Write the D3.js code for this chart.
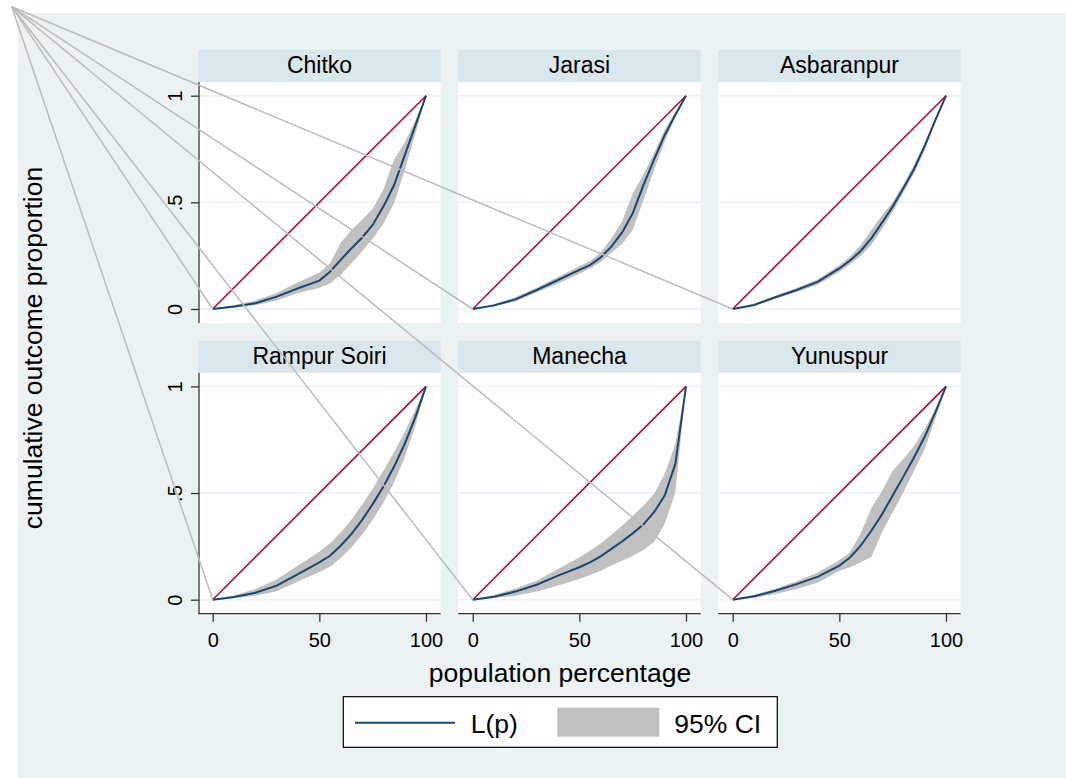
<!DOCTYPE html>
<html>
<head>
<meta charset="utf-8">
<script src="https://cdn.jsdelivr.net/npm/d3@7"></script>
<style>
  body { margin: 0; background: #fff; }
  svg { display: block; font-family: "Liberation Sans", Arial, sans-serif; }
</style>
</head>
<body>
<div id="chart"></div>
<script>
// population percentage grid
const popPct = [0, 10, 20, 30, 40, 50, 55, 60, 65, 70, 75, 80, 85, 90, 95, 100];

const villages = ["Chitko", "Jarasi", "Asbaranpur", "Rampur Soiri", "Manecha", "Yunuspur"];

// L(p) and 95% CI
const chitkoL  = [0, 0.012, 0.027, 0.058, 0.097, 0.133, 0.175, 0.23, 0.284, 0.334, 0.394, 0.48, 0.58, 0.72, 0.86, 1];
const chitkoHi = [0, 0.018, 0.04, 0.075, 0.125, 0.17, 0.214, 0.31, 0.37, 0.417, 0.47, 0.56, 0.70, 0.78, 0.885, 1];
const chitkoLo = [0, 0.006, 0.018, 0.04, 0.075, 0.1, 0.12, 0.16, 0.214, 0.27, 0.33, 0.40, 0.495, 0.65, 0.82, 1];

const jarasiL  = [0, 0.017, 0.045, 0.089, 0.136, 0.183, 0.206, 0.242, 0.292, 0.358, 0.448, 0.58, 0.70, 0.815, 0.91, 1];
const jarasiHi = [0, 0.022, 0.055, 0.10, 0.15, 0.20, 0.225, 0.265, 0.33, 0.41, 0.54, 0.63, 0.73, 0.84, 0.925, 1];
const jarasiLo = [0, 0.012, 0.035, 0.078, 0.12, 0.165, 0.19, 0.22, 0.264, 0.305, 0.37, 0.51, 0.65, 0.785, 0.9, 1];

const asbaranpurL  = [0, 0.019, 0.055, 0.089, 0.128, 0.19, 0.227, 0.272, 0.331, 0.405, 0.48, 0.566, 0.655, 0.764, 0.886, 1];
const asbaranpurHi = [0, 0.024, 0.062, 0.098, 0.14, 0.205, 0.245, 0.30, 0.37, 0.44, 0.50, 0.585, 0.675, 0.78, 0.895, 1];
const asbaranpurLo = [0, 0.014, 0.048, 0.08, 0.115, 0.175, 0.21, 0.25, 0.30, 0.375, 0.455, 0.545, 0.635, 0.745, 0.875, 1];

const rampurL  = [0, 0.013, 0.033, 0.066, 0.12, 0.175, 0.206, 0.253, 0.308, 0.373, 0.448, 0.53, 0.623, 0.73, 0.855, 1];
const rampurHi = [0, 0.02, 0.05, 0.095, 0.16, 0.225, 0.265, 0.315, 0.375, 0.445, 0.52, 0.605, 0.69, 0.785, 0.89, 1];
const rampurLo = [0, 0.007, 0.018, 0.04, 0.085, 0.13, 0.155, 0.195, 0.245, 0.305, 0.375, 0.455, 0.55, 0.665, 0.815, 1];

const manechaL  = [0, 0.014, 0.038, 0.07, 0.113, 0.152, 0.175, 0.203, 0.238, 0.273, 0.311, 0.352, 0.41, 0.488, 0.636, 1];
const manechaHi = [0, 0.022, 0.053, 0.089, 0.144, 0.198, 0.23, 0.264, 0.305, 0.347, 0.394, 0.44, 0.495, 0.59, 0.73, 1];
const manechaLo = [0, 0.008, 0.019, 0.039, 0.066, 0.097, 0.116, 0.136, 0.16, 0.183, 0.206, 0.233, 0.27, 0.355, 0.503, 1];

const yunuspurL  = [0, 0.016, 0.042, 0.073, 0.108, 0.16, 0.198, 0.253, 0.323, 0.40, 0.488, 0.577, 0.667, 0.764, 0.878, 1];
const yunuspurHi = [0, 0.022, 0.053, 0.086, 0.128, 0.186, 0.223, 0.31, 0.43, 0.51, 0.605, 0.66, 0.72, 0.80, 0.894, 1];
const yunuspurLo = [0, 0.009, 0.027, 0.05, 0.081, 0.136, 0.152, 0.175, 0.2, 0.316, 0.41, 0.503, 0.605, 0.706, 0.847, 1];

const curveL  = [chitkoL, jarasiL, asbaranpurL, rampurL, manechaL, yunuspurL];
const curveHi = [chitkoHi, jarasiHi, asbaranpurHi, rampurHi, manechaHi, yunuspurHi];
const curveLo = [chitkoLo, jarasiLo, asbaranpurLo, rampurLo, manechaLo, yunuspurLo];

const xTicks = [0, 50, 100];
const yTicks = [0, 0.5, 1];
const yTickLabels = ["0", ".5", "1"];

const W = 1066, H = 778;
const colX = [198.3, 458.3, 718.3];
const rowTop = [50, 340.7];
const panelW = 242.4, headH = 32, plotH = 241;

const navy = "#1a476f", red = "#c10534", ciFill = "#c0c0c0";
const bg = "#eaf2f3", strip = "#d9e6eb";

const svg = d3.select("#chart").append("svg")
    .attr("width", W)
    .attr("height", H);

svg.append("rect").attr("width", W).attr("height", H).attr("fill", "#fff");
svg.append("rect").attr("x", 18).attr("y", 13).attr("width", W - 18).attr("height", H - 13).attr("fill", bg);

const origins = [];

villages.forEach((name, i) => {
    const col = i % 3, row = Math.floor(i / 3);
    const x0 = colX[col];
    const top = rowTop[row];
    const pTop = top + headH;

    const x = d3.scaleLinear().domain([0, 100]).range([x0 + 14.4, x0 + 227.7]);
    const y = d3.scaleLinear().domain([0, 1]).range([pTop + 227, pTop + 13.7]);
    origins.push([x(0), y(0)]);

    const g = svg.append("g");

    // strip
    g.append("rect")
        .attr("x", x0).attr("y", top)
        .attr("width", panelW).attr("height", headH)
        .attr("fill", strip);
    g.append("text")
        .attr("x", x0 + panelW / 2).attr("y", top + 23.3)
        .attr("text-anchor", "middle")
        .attr("font-size", 23)
        .text(name);

    // plot region
    g.append("rect")
        .attr("x", x0).attr("y", pTop)
        .attr("width", panelW).attr("height", plotH)
        .attr("fill", "#fff");

    g.selectAll(".grid")
        .data(yTicks)
        .enter()
        .append("line")
        .attr("x1", x0).attr("x2", x0 + panelW)
        .attr("y1", d => y(d)).attr("y2", d => y(d))
        .attr("stroke", bg)
        .attr("stroke-width", 1.5);

    const pts = popPct.map((p, k) => ({ p, l: curveL[i][k], lo: curveLo[i][k], hi: curveHi[i][k] }));

    g.append("path")
        .datum(pts)
        .attr("d", d3.area().x(d => x(d.p)).y0(d => y(d.lo)).y1(d => y(d.hi)))
        .attr("fill", ciFill);

    g.append("path")
        .datum([0, 100])
        .attr("d", d3.line().x(d => x(d)).y(d => y(d / 100)))
        .attr("stroke", red)
        .attr("stroke-width", 1.6)
        .attr("fill", "none");

    g.append("path")
        .datum(pts)
        .attr("d", d3.line().x(d => x(d.p)).y(d => y(d.l)))
        .attr("stroke", navy)
        .attr("stroke-width", 2)
        .attr("fill", "none");

    // y axis on the left column
    if (col === 0) {
        const ya = g.append("g")
            .attr("transform", `translate(${x0 + 0.7},0)`)
            .call(d3.axisLeft(y).tickValues(yTicks).tickFormat((d, k) => yTickLabels[k]).tickSize(8).tickSizeOuter(0));
        ya.select(".domain").remove();
        ya.selectAll(".tick line").attr("stroke", "#333").attr("stroke-width", 1.3);
        ya.selectAll(".tick text")
            .attr("transform", "rotate(-90)")
            .attr("x", 0).attr("y", -17).attr("dy", null)
            .attr("text-anchor", "middle")
            .attr("fill", "#000")
            .attr("font-size", 20)
            .attr("font-family", null);
        g.append("line")
            .attr("x1", x0 + 0.7).attr("x2", x0 + 0.7)
            .attr("y1", pTop).attr("y2", pTop + plotH)
            .attr("stroke", "#333").attr("stroke-width", 1.3);
    }

    // x axis on the bottom row
    if (row === 1) {
        const xa = g.append("g")
            .attr("transform", `translate(0,${pTop + plotH})`)
            .call(d3.axisBottom(x).tickValues(xTicks).tickSize(8).tickSizeOuter(0).tickPadding(11));
        xa.select(".domain").remove();
        xa.selectAll(".tick line").attr("stroke", "#333").attr("stroke-width", 1.3);
        xa.selectAll(".tick text")
            .attr("fill", "#000")
            .attr("font-size", 20)
            .attr("font-family", null);
        g.append("line")
            .attr("x1", x0).attr("x2", x0 + panelW)
            .attr("y1", pTop + plotH).attr("y2", pTop + plotH)
            .attr("stroke", "#333").attr("stroke-width", 1.3);
    }
});

// stray connector lines from the corner to every panel origin
svg.selectAll(".stray")
    .data(origins)
    .enter()
    .append("line")
    .attr("x1", 11.7).attr("y1", 6.7)
    .attr("x2", d => d[0]).attr("y2", d => d[1])
    .attr("stroke", "#bcbcbc")
    .attr("stroke-width", 1.5);

// axis titles
svg.append("text")
    .attr("transform", "translate(42,348) rotate(-90)")
    .attr("text-anchor", "middle")
    .attr("font-size", 26.5)
    .text("cumulative outcome proportion");

svg.append("text")
    .attr("x", 560).attr("y", 682)
    .attr("text-anchor", "middle")
    .attr("font-size", 26.5)
    .text("population percentage");

// legend
const leg = svg.append("g");
leg.append("rect")
    .attr("x", 343.3).attr("y", 696.7)
    .attr("width", 434).attr("height", 50.6)
    .attr("fill", "#fff").attr("stroke", "#000").attr("stroke-width", 1.2);
leg.append("line")
    .attr("x1", 355).attr("x2", 455).attr("y1", 722.7).attr("y2", 722.7)
    .attr("stroke", navy).attr("stroke-width", 2);
leg.append("text")
    .attr("x", 470.7).attr("y", 733).attr("font-size", 26.5)
    .text("L(p)");
leg.append("rect")
    .attr("x", 557.3).attr("y", 707.7).attr("width", 102).attr("height", 29)
    .attr("fill", ciFill);
leg.append("text")
    .attr("x", 674.3).attr("y", 733).attr("font-size", 26.5)
    .text("95% CI");
</script>
</body>
</html>
